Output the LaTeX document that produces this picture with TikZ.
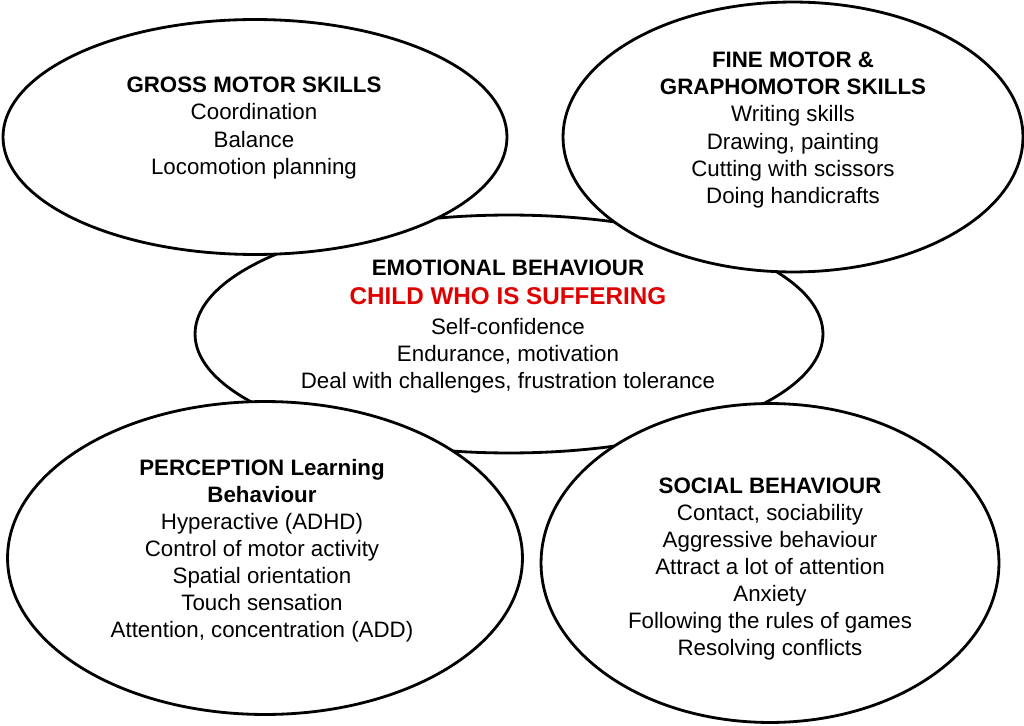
\documentclass[tikz,border=0pt]{standalone}
\usepackage{fontspec}
\setmainfont{Liberation Sans}
\usetikzlibrary{
    shapes.geometric,
    positioning,
    calc
}
\definecolor{inkblack}{HTML}{000000}
\definecolor{sufferred}{HTML}{E00000}

\begin{document}
\begin{tikzpicture}[
    x=0.02cm,
    y=-0.02cm,
    every node/.style={text=inkblack},
    area/.style={
        ellipse,
        draw=inkblack,
        line width=1.6pt,
        fill=white,
        inner sep=0pt
    },
    skills/.style={
        align=center,
        inner sep=0pt,
        font=\fontsize{12.7}{15.4}\selectfont
    }
]

\useasboundingbox (0,0) rectangle (1024,726);

% =====================================================
% Middle ellipse (drawn first, the others cover it)
% =====================================================

\node[area, minimum width=12.56cm, minimum height=4.76cm] (emotion) at (509,334) {};

% =====================================================
% Corner ellipses
% =====================================================

\node[area, minimum width=10.08cm, minimum height=4.70cm] (gross) at (255,137) {};

\node[area, minimum width=9.20cm, minimum height=5.40cm] (fine) at (793,137) {};

\node[area, minimum width=10.30cm, minimum height=6.26cm] (percep) at (265,558) {};

\node[area, minimum width=9.16cm, minimum height=6.38cm] (social) at (770,563) {};

% =====================================================
% Texts
% =====================================================

\node[skills] (grosstext) at (254,128)
{\textbf{GROSS MOTOR SKILLS}\\Coordination\\Balance\\Locomotion planning};

\node[skills] (finetext) at (793,130)
{\textbf{FINE MOTOR \&}\\\textbf{GRAPHOMOTOR SKILLS}\\Writing skills\\Drawing, painting\\Cutting with scissors\\Doing handicrafts};

\node[skills] (emotiontext) at (508,326.5)
{\textbf{EMOTIONAL BEHAVIOUR}\\[1pt]
{\fontsize{13.8}{15.4}\selectfont\bfseries\color{sufferred}CHILD WHO IS SUFFERING}\\[2pt]
Self-confidence\\Endurance, motivation\\Deal with challenges, frustration tolerance};

\node[skills] (perceptext) at (262,551)
{\textbf{PERCEPTION Learning}\\\textbf{Behaviour}\\Hyperactive (ADHD)\\Control of motor activity\\Spatial orientation\\Touch sensation\\Attention, concentration (ADD)};

\node[skills] (socialtext) at (770,569)
{\textbf{SOCIAL BEHAVIOUR}\\Contact, sociability\\Aggressive behaviour\\Attract a lot of attention\\Anxiety\\Following the rules of games\\Resolving conflicts};

\end{tikzpicture}
\end{document}
